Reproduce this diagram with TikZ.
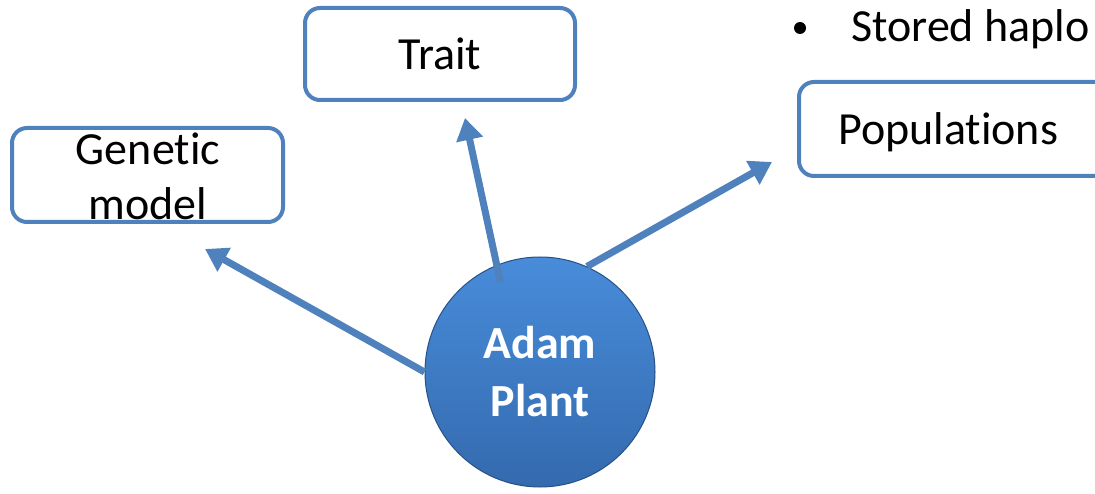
\documentclass[tikz,border=0pt]{standalone}
\usepackage{fontspec}
\setmainfont[Ligatures=NoCommon]{Carlito}
\usepackage{xcolor}
\usetikzlibrary{arrows.meta,positioning}
\definecolor{officeblue}{RGB}{79,129,189}
\definecolor{balltop}{RGB}{72,140,218}
\definecolor{ballbottom}{RGB}{52,106,174}
\definecolor{balledge}{RGB}{40,80,135}

\begin{document}
\begin{tikzpicture}[x=1pt,y=-1pt,>={Triangle[length=22pt,width=26pt]},
  box/.style={draw=officeblue,line width=4pt,rounded corners=15pt,fill=white,inner sep=0pt},
  label text/.style={font=\fontsize{46}{55}\selectfont,align=center,inner sep=0pt},
  link/.style={->,draw=officeblue,line width=7pt}]
  \useasboundingbox (0,0) rectangle (1095,494);
  \clip (0,0) rectangle (1095,494);
  % boxes
  \node[box,minimum width=270pt,minimum height=92pt] (trait) at (440,54) {};
  \node[label text] (traittext) at (trait.center) {Trait};
  \node[box,minimum width=271pt,minimum height=94pt] (gm) at (147.5,175) {};
  \node[label text] (gmtext) at (148,176) {Genetic\\model};
  \node[box,minimum width=330pt,minimum height=94pt,anchor=west] (pop) at (797,129) {};
  \node[label text,anchor=base west] (poptext) at (838,145) {Populations};
  % bullet line
  \node[label text,anchor=base west] (stored) at (851,42) {Stored haplo};
  \node[circle,fill=black,inner sep=0pt,minimum size=12pt] (dot) at (800,28) {};
  % central ball
  \node[circle,minimum size=230pt,draw=balledge,line width=1pt,
        top color=balltop,bottom color=ballbottom,
        label text,font=\bfseries\fontsize{46}{58}\selectfont,text=white] (adam) at (540,372) {Adam\\Plant};
  % arrows
  \coordinate (gmtip) at (205,249);
  \coordinate (traittip) at (465,118);
  \coordinate (poptip) at (772,162);
  \draw[link] (adam.west) -- (gmtip);
  \draw[link,shorten <=-18pt] (adam.112) -- (traittip);
  \draw[link] (adam.66) -- (poptip);
\end{tikzpicture}
\end{document}
